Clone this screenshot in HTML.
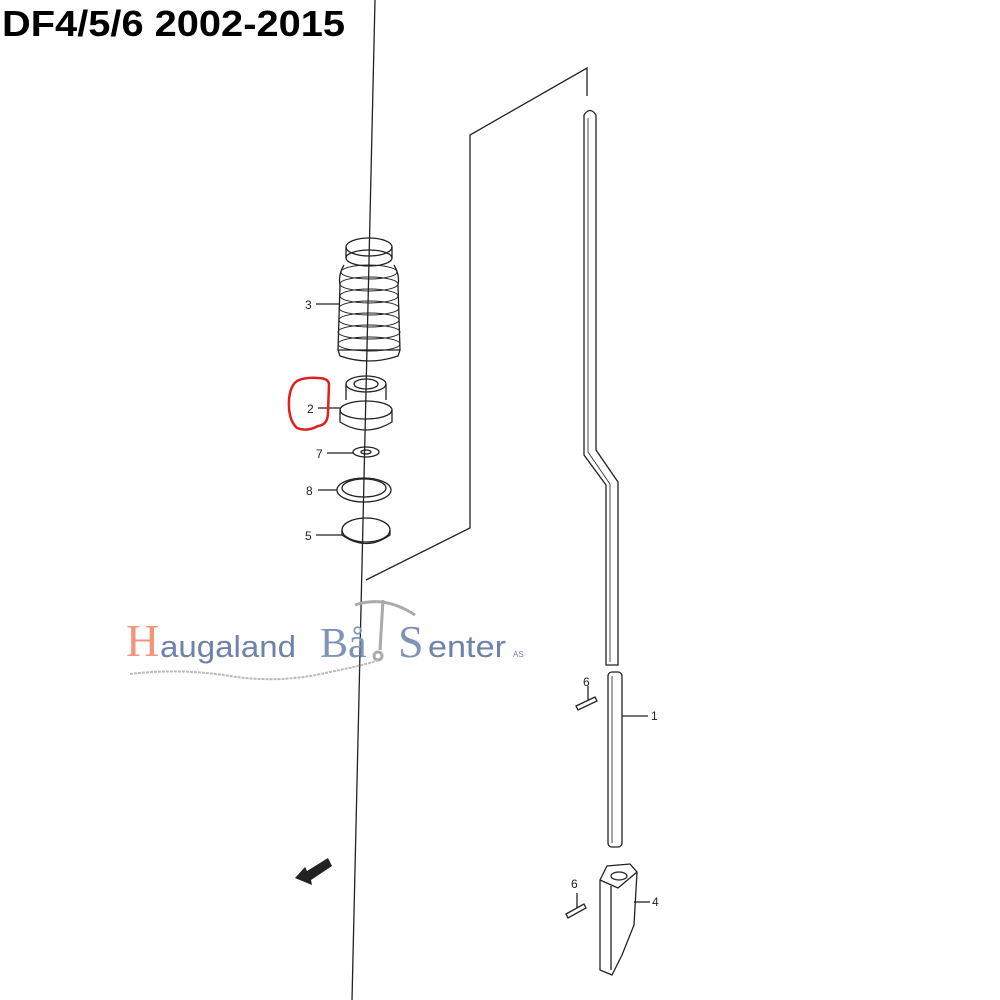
<!DOCTYPE html>
<html><head><meta charset="utf-8"><style>
html,body{margin:0;padding:0;background:#fff;}
svg{display:block}
</style></head><body>
<svg width="1000" height="1000" viewBox="0 0 1000 1000" xmlns="http://www.w3.org/2000/svg">
<rect width="1000" height="1000" fill="#fff"/>
<text x="2" y="36" font-family="Liberation Sans, sans-serif" font-weight="bold" font-size="36" fill="#000" textLength="343" lengthAdjust="spacingAndGlyphs">DF4/5/6 2002-2015</text>
<g stroke="#222" stroke-width="1.3" fill="none">
<line x1="375" y1="0" x2="352" y2="1000"/>
<path d="M366,580 L470,528 L470,135 L587,68 L587,96"/>
<path d="M584,115 Q590,106 596,115 L596,450 L618,482 L618,665 L606,665 L606,485 L584,455 Z"/>
<path d="M588,118 L588,452 L610,484 L610,662" stroke-width="0.8"/>
<rect x="608" y="672" width="14" height="175" rx="4"/>
<line x1="612" y1="676" x2="612" y2="843" stroke-width="0.8"/>
<path d="M600,880 L607,866 L630,864 L637,872 L634,925 L622,955 L612,975 L600,970 Z"/>
<path d="M600,880 L618,888 L637,872"/>
<ellipse cx="619" cy="876" rx="8" ry="4"/>
<line x1="611" y1="886" x2="611" y2="970"/>
<path d="M576,706 L595,697 L597,701 L578,710 Z"/>
<path d="M566,914 L584,904 L586,908 L568,918 Z"/>
<line x1="588" y1="686" x2="588" y2="700"/>
<line x1="577" y1="893" x2="577" y2="908"/>
<line x1="622" y1="716" x2="648" y2="716"/>
<line x1="634" y1="902" x2="650" y2="902"/>
<ellipse cx="369" cy="247" rx="23" ry="9"/>
<path d="M346,247 L346,258 M392,247 L392,258"/>
<ellipse cx="369" cy="258" rx="23" ry="8"/>
<path d="M344,265 Q338,275 340,285 L338,350 L400,350 L398,285 Q400,275 394,265"/>
<g stroke-width="1">
<ellipse cx="369" cy="272" rx="28" ry="7"/>
<ellipse cx="369" cy="284" rx="29" ry="7"/>
<ellipse cx="369" cy="296" rx="29" ry="7"/>
<ellipse cx="369" cy="308" rx="30" ry="7"/>
<ellipse cx="369" cy="320" rx="30" ry="7"/>
<ellipse cx="369" cy="332" rx="31" ry="7"/>
<ellipse cx="369" cy="344" rx="31" ry="7"/>
</g>
<path d="M338,350 L340,356 Q369,366 398,356 L400,350"/>
<line x1="316" y1="304" x2="340" y2="304"/>
<ellipse cx="366" cy="384" rx="20" ry="8"/>
<ellipse cx="366" cy="384" rx="12" ry="5"/>
<path d="M346,384 L346,400 M386,384 L386,400"/>
<ellipse cx="366" cy="410" rx="26" ry="9"/>
<path d="M340,410 L340,422 Q366,438 392,422 L392,410"/>
<line x1="318" y1="408" x2="340" y2="408"/>
<ellipse cx="366" cy="452" rx="13" ry="5"/>
<ellipse cx="366" cy="452" rx="5" ry="2"/>
<line x1="327" y1="453" x2="353" y2="453"/>
<ellipse cx="364" cy="490" rx="27" ry="12"/>
<ellipse cx="364" cy="488" rx="22" ry="9"/>
<line x1="318" y1="490" x2="337" y2="490"/>
<ellipse cx="366" cy="530" rx="24" ry="12"/>
<path d="M342,530 L342,535 Q366,552 390,535 L390,530"/>
<line x1="316" y1="535" x2="342" y2="535"/>
</g>
<g font-family="Liberation Sans, sans-serif" font-size="12" fill="#222">
<text x="305" y="309">3</text>
<text x="307" y="413">2</text>
<text x="316" y="458">7</text>
<text x="306" y="495">8</text>
<text x="305" y="540">5</text>
<text x="583" y="686">6</text>
<text x="571" y="888">6</text>
<text x="651" y="720">1</text>
<text x="652" y="906">4</text>
</g>
<path d="M297,381 Q290,386 289,400 Q288,420 297,428 Q307,432 318,426 Q328,425 328,412 L329,384 Q328,378 318,378 Q305,377 297,381 Z" fill="none" stroke="#e02020" stroke-width="2.5"/>
<path d="M295,878 L305,867 L307,871 L328,858 L332,866 L311,880 L312,885 Z" fill="#222"/>
<g font-family="Liberation Serif, serif">
<text x="126" y="656" font-size="46" fill="#f2957a">H</text>
<text x="160" y="657" font-family="Liberation Sans, sans-serif" font-size="31" fill="#6e82aa" textLength="136" lengthAdjust="spacingAndGlyphs">augaland</text>
<text x="320" y="657" font-size="42" fill="#7f93b8">Bå</text>
<text x="398" y="657" font-size="46" fill="#7f93b8">S</text>
<text x="428" y="657" font-family="Liberation Sans, sans-serif" font-size="31" fill="#6e82aa" textLength="78" lengthAdjust="spacingAndGlyphs">enter</text>
<text x="513" y="657" font-family="Liberation Sans, sans-serif" font-size="8" fill="#6e82aa">AS</text>
</g>
<g stroke="#aaa" fill="none" stroke-width="3">
<line x1="383" y1="600" x2="380" y2="650"/>
<path d="M355,605 Q385,595 415,615"/>
<circle cx="378" cy="656" r="4"/>
</g>
<path d="M130,674 Q180,668 230,676 Q280,684 330,672 Q370,664 378,660" stroke="#bbb" stroke-width="2" stroke-dasharray="3 1" fill="none"/>
</svg>
</body></html>
